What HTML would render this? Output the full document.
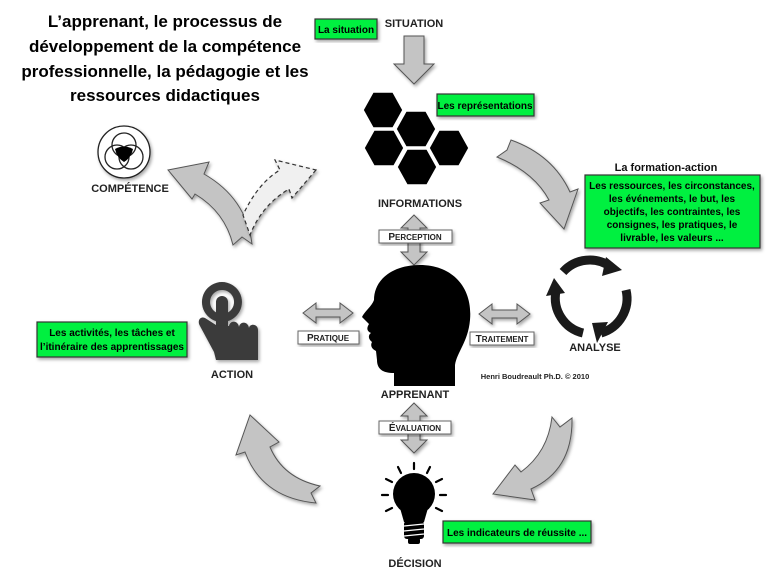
<!DOCTYPE html>
<html><head><meta charset="utf-8"><style>
html,body{margin:0;padding:0;background:#fff;}
svg{display:block;font-family:"Liberation Sans",sans-serif;}
.g{fill:#00f040;stroke:#333;stroke-width:1.2;}
.gt{font-weight:bold;font-size:10px;fill:#000;text-anchor:middle;font-family:"Liberation Sans Narrow","Liberation Sans",sans-serif;}
.lb{font-weight:bold;font-size:11px;fill:#222;text-anchor:middle;}
.ar{fill:#c4c4c4;stroke:#555;stroke-width:1;}
.lbl{fill:#fff;stroke:#666;stroke-width:1;}
.sc{font-weight:bold;font-size:8px;fill:#222;text-anchor:middle;}
</style></head><body>
<svg width="775" height="579" viewBox="0 0 775 579" xmlns="http://www.w3.org/2000/svg">
<defs><filter id="sh" x="-20%" y="-20%" width="140%" height="140%"><feDropShadow dx="1.5" dy="2" stdDeviation="1.5" flood-opacity="0.35"/></filter></defs>
<!-- title -->
<g font-weight="bold" font-size="17" text-anchor="middle" fill="#000">
<text x="165" y="27">L’apprenant, le processus de</text>
<text x="165" y="52">développement de la compétence</text>
<text x="165" y="77">professionnelle, la pédagogie et les</text>
<text x="165" y="101">ressources didactiques</text>
</g>
<!-- situation -->
<rect class="g" x="315" y="19" width="62" height="20" filter="url(#sh)"/>
<text class="gt" x="346" y="33">La situation</text>
<text class="lb" x="414" y="27">SITUATION</text>
<path class="ar" d="M404,36 L424,36 L424,64 L434,64 L414,84 L394,64 L404,64 Z" filter="url(#sh)"/>
<!-- hexes -->
<g fill="#000" stroke="#fff" stroke-width="1.5">
<polygon points="363,110 373,92 393,92 403,110 393,128 373,128"/>
<polygon points="396,129 406,111 426,111 436,129 426,147 406,147"/>
<polygon points="364,148 374,130 394,130 404,148 394,166 374,166"/>
<polygon points="429,148 439,130 459,130 469,148 459,166 439,166"/>
<polygon points="397,167 407,149 427,149 437,167 427,185 407,185"/>
</g>
<rect class="g" x="437" y="94" width="97" height="22" filter="url(#sh)"/>
<text class="gt" x="485" y="109">Les représentations</text>
<text class="lb" x="420" y="207">INFORMATIONS</text>
<!-- perception -->
<path class="ar" d="M414,215 L427,228 L420,228 L420,252 L427,252 L414,265 L401,252 L408,252 L408,228 L401,228 Z" filter="url(#sh)"/>
<rect class="lbl" x="379" y="230" width="73" height="13" filter="url(#sh)"/>
<text class="sc" x="415" y="240"><tspan font-size="10">P</tspan>ERCEPTION</text>
<!-- head -->
<path fill="#000" d="M420,265 C452,265 473,287 470,320 C468,342 457,352 455,365 L455,386 L394,386 L394,373 C384,373 377,370 377,360 L376,351 C372,349 370,346 372,342 C368,339 368,335 371,333 C366,331 367,327 369,324 L362,317 C364,312 372,306 374,300 C374,280 392,265 420,265 Z"/>
<text class="lb" x="415" y="398">APPRENANT</text>
<!-- traitement -->
<path class="ar" d="M479,314 L492,304 L492,310 L517,310 L517,304 L530,314 L517,324 L517,318 L492,318 L492,324 Z" filter="url(#sh)"/>
<rect class="lbl" x="470" y="332" width="64" height="13" filter="url(#sh)"/>
<text class="sc" x="502" y="342"><tspan font-size="10">T</tspan>RAITEMENT</text>
<!-- pratique -->
<path class="ar" d="M303,313 L316,303 L316,309 L340,309 L340,303 L353,313 L340,323 L340,317 L316,317 L316,323 Z" filter="url(#sh)"/>
<rect class="lbl" x="298" y="331" width="61" height="13" filter="url(#sh)"/>
<text class="sc" x="328" y="341"><tspan font-size="10">P</tspan>RATIQUE</text>
<!-- analyse cycle -->
<g fill="none" stroke="#1a1a1a" stroke-width="9">
<path d="M563,272 A36,36 0 0 1 611,267"/>
<path d="M626,290 A36,36 0 0 1 601,333"/>
<path d="M583,333 A36,36 0 0 1 556,291"/>
</g>
<g fill="#1a1a1a">
<polygon points="606,257 622,270 602,276"/>
<polygon points="608,322 597,343 592,323"/>
<polygon points="546,296 554,278 565,293"/>
</g>
<text class="lb" x="595" y="351">ANALYSE</text>
<text x="666" y="171" font-size="11" font-weight="bold" text-anchor="middle" fill="#111">La formation-action</text>
<rect class="g" x="585" y="175" width="175" height="73" filter="url(#sh)"/>
<g class="gt">
<text x="672" y="189">Les ressources, les circonstances,</text>
<text x="672" y="202">les événements,  le but, les</text>
<text x="672" y="215">objectifs, les contraintes, les</text>
<text x="672" y="228">consignes,  les pratiques, le</text>
<text x="672" y="241">livrable, les valeurs ...</text>
</g>
<text x="535" y="379" font-size="7.5" font-weight="bold" text-anchor="middle" fill="#222">Henri Boudreault Ph.D. © 2010</text>
<!-- action hand -->
<g fill="#3a3a3a" filter="url(#sh)">
<path d="M222,282 A20,20 0 1 1 221.9,282 Z M222,290 A12,12 0 1 0 222.1,290 Z" fill-rule="evenodd"/>
<rect x="216" y="296" width="12" height="44" rx="6"/>
<path d="M216,325 L205,318 C200,316 197,321 200,326 L214,352 L216,360 L258,360 L258,330 C258,324 250,323 249,328 C248,321 240,321 239,327 C238,320 230,320 229,326 Z"/>
</g>
<text class="lb" x="232" y="378">ACTION</text>
<rect class="g" x="37" y="322" width="150" height="35" filter="url(#sh)"/>
<text class="gt" x="112" y="336">Les activités, les tâches et</text>
<text class="gt" x="112" y="350">l’itinéraire des apprentissages</text>
<!-- competence -->
<g fill="none" stroke="#222" stroke-width="1.3" filter="url(#sh)">
<circle cx="124" cy="152" r="26" fill="#fff"/>
<circle cx="124" cy="145" r="12"/>
<circle cx="117" cy="157" r="12"/>
<circle cx="131" cy="157" r="12"/>
</g>
<path d="M115,149 Q124,144 133,149 Q131,158 124,162 Q117,158 115,149 Z" fill="#000"/>
<text class="lb" x="130" y="192">COMPÉTENCE</text>
<!-- curved arrows -->
<path class="ar" d="M168,170 L209,162 L204,174 Q246,198 252,244 L242,237 L233,245 Q225,212 195,194 L192,199 Z" filter="url(#sh)"/>
<path d="M316,170 L292,198 L289,189 Q262,205 250,235 L243,215 Q258,183 280,170 L275,160 Z" fill="#f0f0f0" stroke="#333" stroke-width="1.2" stroke-dasharray="4,3" filter="url(#sh)"/>
<path class="ar" d="M497,157 L507,150 L511,140 Q553,155 570,192 L578,189 L564,229 L540,203 L549,200 Q534,172 497,157 Z" filter="url(#sh)"/>
<path class="ar" d="M552,417 L560,427 L572,418 Q573,470 531,489 L535,500 L493,494 L515,465 L521,472 Q548,452 552,417 Z" filter="url(#sh)"/>
<path class="ar" d="M250,415 L279,442 L270,447 Q283,478 320,486 L311,493 L316,503 Q262,498 245,452 L236,455 Z" filter="url(#sh)"/>
<!-- evaluation -->
<path class="ar" d="M414,403 L427,416 L420,416 L420,440 L427,440 L414,453 L401,440 L408,440 L408,416 L401,416 Z" filter="url(#sh)"/>
<rect class="lbl" x="379" y="421" width="72" height="13" filter="url(#sh)"/>
<text class="sc" x="415" y="431"><tspan font-size="10">É</tspan>VALUATION</text>
<!-- bulb -->
<g fill="#000">
<circle cx="414" cy="494" r="21"/>
<path d="M400,508 L428,508 L424,522 L404,522 Z"/>
<rect x="404" y="521" width="20" height="18" rx="3"/>
<rect x="408" y="538" width="12" height="6" rx="2"/>
</g>
<g stroke="#fff" stroke-width="1.3"><line x1="404" y1="526" x2="424" y2="524"/><line x1="404" y1="531" x2="424" y2="529"/><line x1="404" y1="536" x2="424" y2="534"/></g>
<g stroke="#000" stroke-width="2.2" stroke-linecap="round">
<line x1="414" y1="463" x2="414" y2="469"/>
<line x1="398" y1="467" x2="401" y2="473"/><line x1="430" y1="467" x2="427" y2="473"/>
<line x1="386" y1="479" x2="392" y2="482"/><line x1="442" y1="479" x2="436" y2="482"/>
<line x1="382" y1="495" x2="388" y2="495"/><line x1="446" y1="495" x2="440" y2="495"/>
<line x1="386" y1="511" x2="392" y2="508"/><line x1="442" y1="511" x2="436" y2="508"/>
</g>
<text class="lb" x="415" y="567">DÉCISION</text>
<rect class="g" x="443" y="521" width="148" height="22" filter="url(#sh)"/>
<text class="gt" x="517" y="536">Les indicateurs de réussite ...</text>
</svg>
</body></html>
